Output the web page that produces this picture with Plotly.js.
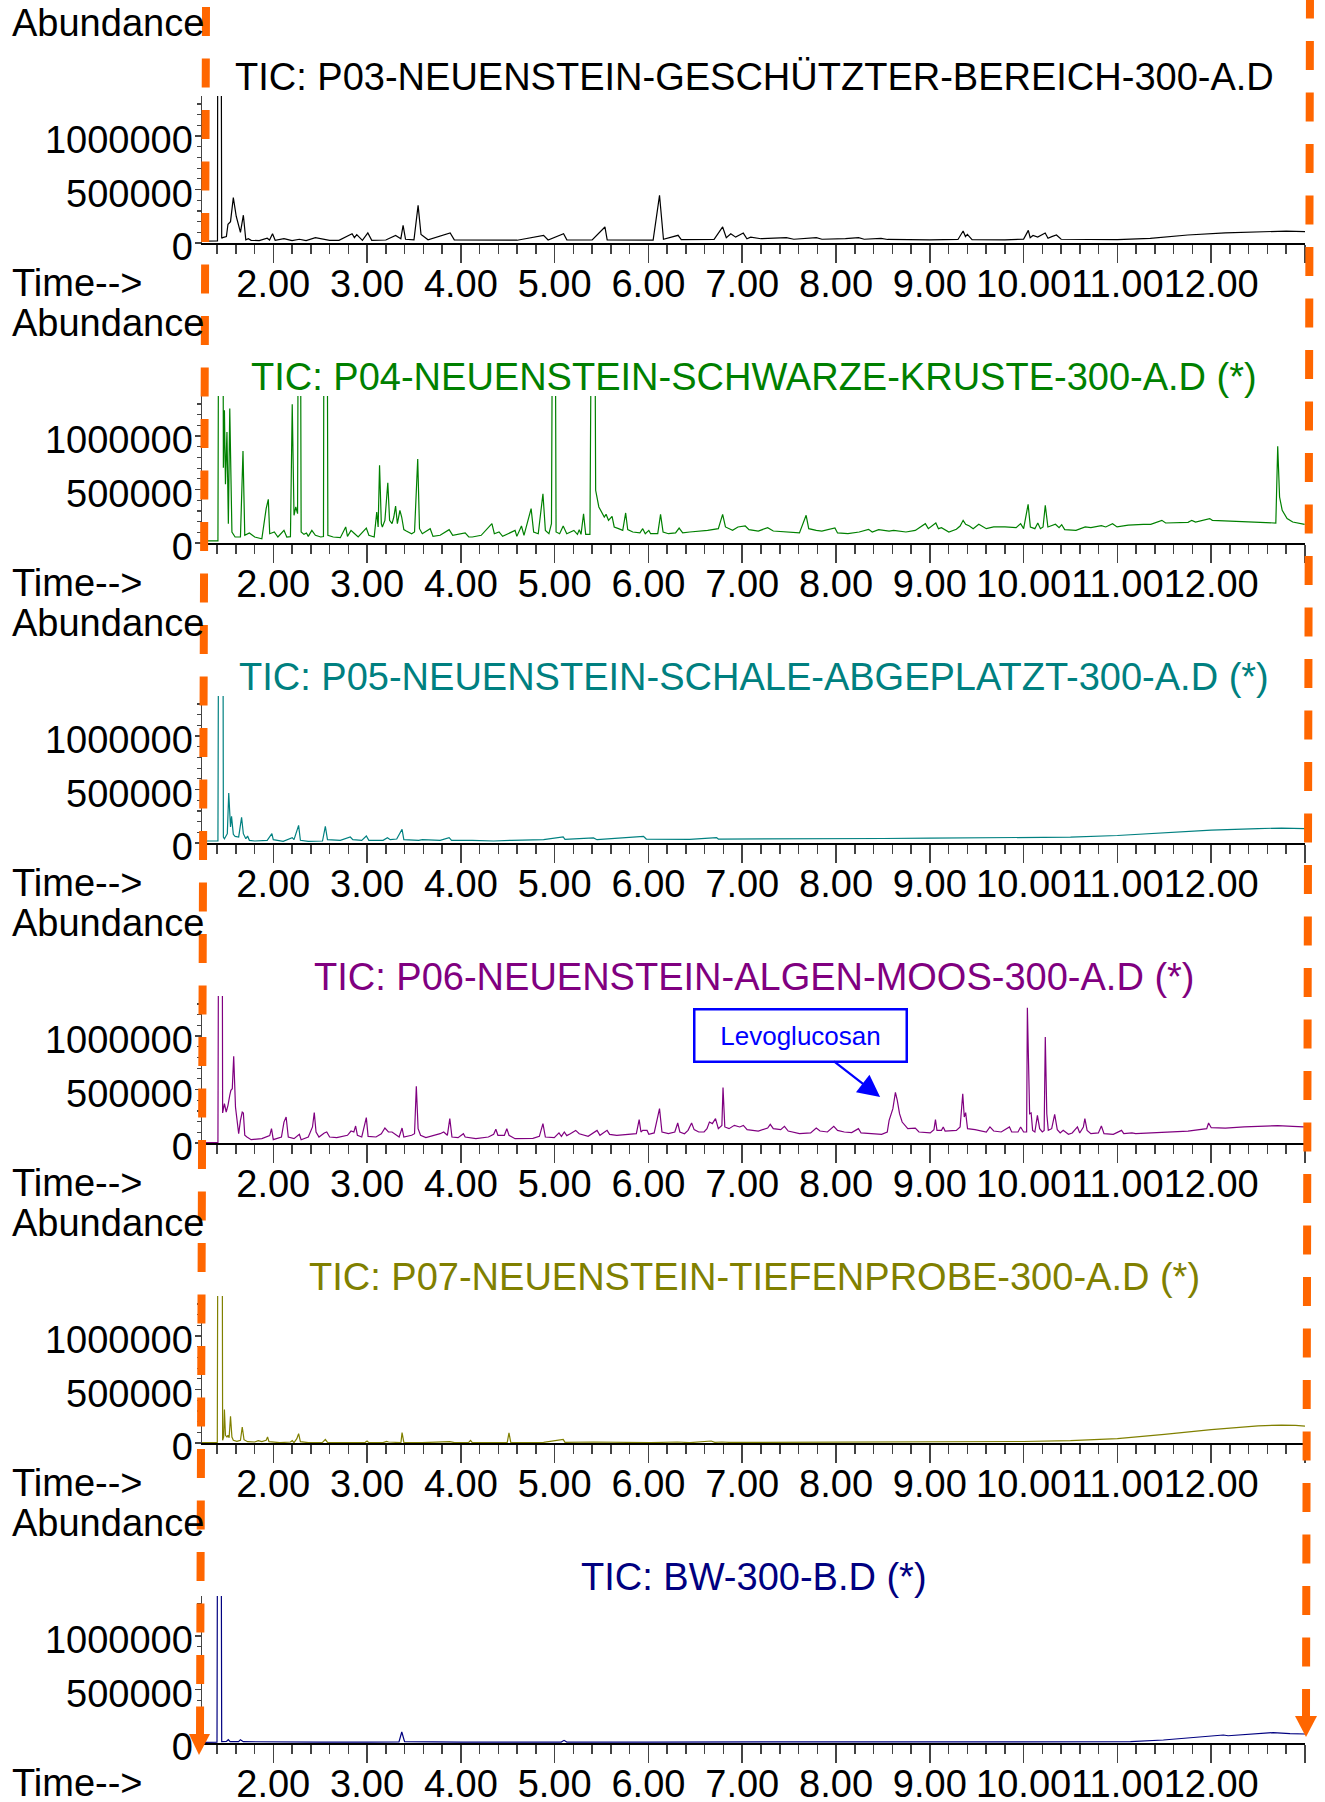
<!DOCTYPE html>
<html>
<head>
<meta charset="utf-8">
<script src="https://cdn.plot.ly/plotly-3.0.1.min.js"></script>
<style>html,body{margin:0;padding:0;background:#fff;}#chart{width:1325px;height:1802px;}</style>
</head>
<body>
<div id="chart"></div>
<script>
// ---- data: [retention time (min), abundance] ----
const p03 = [[1.24,18000],[1.39,20000],[1.405,20000],[1.41,4e6],[1.44,4e6],[1.45,45000],[1.46,50000],[1.50,60000],[1.517,175000],[1.544,200000],[1.574,424000],[1.605,250000],[1.631,150000],[1.65,100000],[1.681,260000],[1.707,30000],[1.734,40000],[1.764,25000],[1.85,22000],[1.935,45000],[1.96,28000],[1.992,87000],[2.02,25000],[2.114,40000],[2.2,22000],[2.278,35000],[2.35,22000],[2.449,50000],[2.6,24000],[2.7,25000],[2.84,87000],[2.865,50000],[2.89,78000],[2.95,25000],[3.008,94000],[3.05,25000],[3.2,28000],[3.304,70000],[3.36,40000],[3.384,165000],[3.41,35000],[3.50,30000],[3.544,352000],[3.575,80000],[3.65,30000],[3.886,94000],[3.93,30000],[4.3,24000],[4.6,26000],[4.882,72000],[4.93,28000],[5.095,87000],[5.13,30000],[5.4,28000],[5.536,150000],[5.56,30000],[5.9,26000],[6.05,27000],[6.118,446000],[6.16,35000],[6.316,72000],[6.35,32000],[6.7,34000],[6.791,150000],[6.83,50000],[6.878,87000],[6.93,55000],[7.011,93000],[7.05,40000],[7.09,55000],[7.2,40000],[7.47,50000],[7.55,35000],[7.79,50000],[7.85,35000],[8.1,40000],[8.24,50000],[8.3,35000],[8.48,44000],[8.55,33000],[9.0,30000],[9.3,33000],[9.355,112000],[9.38,60000],[9.40,80000],[9.45,32000],[9.8,30000],[10.0,36000],[10.05,118000],[10.07,50000],[10.1,70000],[10.15,55000],[10.23,94000],[10.26,45000],[10.3,60000],[10.35,75000],[10.4,35000],[10.6,34000],[10.8,33000],[11.0,31000],[11.35,44000],[11.75,75000],[12.15,94000],[12.55,109000],[12.8,112000],[13.0,107000]];

const p04 = [[1.24,19000],[1.41,19000],[1.422,4e6],[1.46,4e6],[1.468,705000],[1.479,1241000],[1.49,549000],[1.506,1038000],[1.521,181000],[1.536,1257000],[1.559,103000],[1.593,56000],[1.65,56000],[1.677,860000],[1.696,72000],[1.745,94000],[1.802,56000],[1.878,40000],[1.924,321000],[1.947,408000],[1.962,87000],[2.011,103000],[2.049,56000],[2.114,118000],[2.144,56000],[2.183,60000],[2.202,1297000],[2.221,259000],[2.24,337000],[2.259,274000],[2.272,4e6],[2.285,4e6],[2.297,103000],[2.327,81000],[2.354,94000],[2.373,62000],[2.411,118000],[2.449,72000],[2.506,56000],[2.535,60000],[2.544,4e6],[2.57,4e6],[2.582,72000],[2.639,56000],[2.715,50000],[2.772,150000],[2.791,62000],[2.829,118000],[2.859,94000],[2.905,56000],[2.992,140000],[3.019,72000],[3.076,56000],[3.103,290000],[3.118,150000],[3.133,726000],[3.152,181000],[3.163,150000],[3.19,212000],[3.221,564000],[3.24,212000],[3.266,181000],[3.285,243000],[3.304,346000],[3.323,181000],[3.35,306000],[3.369,243000],[3.392,125000],[3.418,112000],[3.445,103000],[3.475,87000],[3.506,103000],[3.54,786000],[3.559,134000],[3.589,87000],[3.673,134000],[3.703,62000],[3.779,72000],[3.875,125000],[3.913,72000],[4.046,94000],[4.084,56000],[4.122,56000],[4.217,72000],[4.331,181000],[4.357,87000],[4.407,103000],[4.445,62000],[4.521,94000],[4.578,118000],[4.597,62000],[4.646,159000],[4.673,72000],[4.749,321000],[4.776,103000],[4.825,87000],[4.875,461000],[4.901,118000],[4.939,87000],[4.966,181000],[4.985,4e6],[5.0,4e6],[5.015,103000],[5.053,87000],[5.091,159000],[5.129,87000],[5.205,118000],[5.243,81000],[5.262,125000],[5.281,81000],[5.308,274000],[5.331,81000],[5.376,81000],[5.403,4e6],[5.422,4e6],[5.437,493000],[5.471,337000],[5.529,243000],[5.548,268000],[5.574,212000],[5.612,249000],[5.635,150000],[5.681,134000],[5.726,118000],[5.757,281000],[5.779,125000],[5.833,103000],[5.909,94000],[5.939,134000],[5.966,87000],[6.004,118000],[6.023,87000],[6.099,87000],[6.129,268000],[6.156,103000],[6.213,87000],[6.289,94000],[6.327,140000],[6.365,94000],[6.441,103000],[6.631,118000],[6.745,134000],[6.791,268000],[6.821,150000],[6.897,118000],[6.954,150000],[7.032,159000],[7.072,125000],[7.171,112000],[7.271,143000],[7.331,112000],[7.45,103000],[7.61,94000],[7.681,259000],[7.709,134000],[7.789,118000],[7.849,112000],[7.988,140000],[8.016,94000],[8.127,87000],[8.247,103000],[8.347,128000],[8.386,103000],[8.454,125000],[8.566,112000],[8.614,118000],[8.745,103000],[8.845,118000],[8.952,181000],[8.984,134000],[9.064,187000],[9.092,134000],[9.124,143000],[9.203,103000],[9.283,128000],[9.323,159000],[9.355,212000],[9.382,175000],[9.422,159000],[9.462,134000],[9.522,175000],[9.602,134000],[9.681,150000],[9.801,150000],[9.92,143000],[9.968,181000],[10.0,134000],[10.048,362000],[10.072,150000],[10.12,134000],[10.151,187000],[10.179,134000],[10.207,150000],[10.231,352000],[10.259,150000],[10.339,175000],[10.378,143000],[10.406,171000],[10.438,125000],[10.558,118000],[10.657,150000],[10.717,143000],[10.829,162000],[10.876,150000],[10.948,181000],[10.996,150000],[11.116,168000],[11.275,175000],[11.355,175000],[11.474,212000],[11.514,187000],[11.753,193000],[11.793,212000],[11.833,196000],[11.984,228000],[12.012,212000],[12.151,206000],[12.39,196000],[12.55,193000],[12.689,187000],[12.709,904000],[12.729,430000],[12.757,306000],[12.809,228000],[12.869,196000],[12.996,175000]];

const p05 = [[1.24,18700],[1.41,18700],[1.422,4e6],[1.46,4e6],[1.468,56000],[1.479,40000],[1.51,87000],[1.525,468000],[1.544,150000],[1.555,249000],[1.574,81000],[1.593,62000],[1.631,56000],[1.662,240000],[1.681,87000],[1.707,40000],[1.726,65000],[1.745,25000],[1.802,18700],[1.878,25000],[1.935,25000],[1.985,87000],[2.0,31000],[2.106,15600],[2.202,50000],[2.221,31000],[2.27,165000],[2.289,25000],[2.373,15600],[2.525,18700],[2.555,156000],[2.578,31000],[2.715,25000],[2.821,56000],[2.848,31000],[2.943,25000],[2.992,65000],[3.019,25000],[3.171,25000],[3.217,50000],[3.247,31000],[3.316,37000],[3.373,128000],[3.392,31000],[3.551,25000],[3.589,31000],[3.779,25000],[3.875,50000],[3.901,25000],[4.122,25000],[4.35,18700],[4.54,25000],[4.882,31000],[5.091,56000],[5.11,34000],[5.414,47000],[5.452,31000],[5.947,62000],[5.977,37000],[6.441,34000],[6.726,50000],[6.745,37000],[7.08,37000],[7.5,38000],[8.0,40000],[8.5,42000],[9.0,45000],[9.5,47000],[10.0,50000],[10.5,55000],[11.0,70000],[11.5,95000],[12.0,120000],[12.5,135000],[12.75,140000],[13.0,135000]];

const p06 = [[1.24,3100],[1.41,3100],[1.422,4e6],[1.452,4e6],[1.46,281000],[1.479,368000],[1.498,290000],[1.517,352000],[1.536,446000],[1.548,493000],[1.563,508000],[1.578,811000],[1.597,337000],[1.612,243000],[1.631,87000],[1.65,212000],[1.669,290000],[1.681,281000],[1.696,72000],[1.719,56000],[1.734,47000],[1.764,31000],[1.878,40500],[1.935,56000],[1.962,69000],[1.981,134000],[2.0,31000],[2.087,56000],[2.114,196000],[2.137,243000],[2.16,56000],[2.221,40500],[2.278,81000],[2.297,31000],[2.373,56000],[2.418,150000],[2.437,284000],[2.456,103000],[2.487,56000],[2.544,94000],[2.57,103000],[2.601,56000],[2.677,50000],[2.791,72000],[2.829,112000],[2.859,103000],[2.878,159000],[2.897,72000],[2.943,56000],[2.992,237000],[3.011,62000],[3.095,56000],[3.152,87000],[3.19,140000],[3.228,103000],[3.266,103000],[3.304,81000],[3.342,56000],[3.373,140000],[3.392,56000],[3.475,72000],[3.506,87000],[3.525,530000],[3.544,134000],[3.57,72000],[3.627,50000],[3.779,87000],[3.817,103000],[3.856,72000],[3.882,228000],[3.905,56000],[3.97,50000],[4.027,87000],[4.046,56000],[4.16,40500],[4.293,56000],[4.35,81000],[4.373,128000],[4.395,72000],[4.464,72000],[4.49,134000],[4.513,72000],[4.578,40500],[4.654,44000],[4.768,44000],[4.837,62000],[4.875,181000],[4.901,56000],[4.996,50000],[5.046,94000],[5.072,62000],[5.103,103000],[5.129,69000],[5.167,87000],[5.224,118000],[5.262,87000],[5.357,62000],[5.452,118000],[5.483,72000],[5.559,118000],[5.586,81000],[5.662,72000],[5.757,81000],[5.871,87000],[5.901,218000],[5.92,103000],[5.939,118000],[5.985,118000],[6.004,81000],[6.061,94000],[6.118,321000],[6.144,103000],[6.213,87000],[6.281,103000],[6.312,187000],[6.335,103000],[6.384,87000],[6.422,118000],[6.46,187000],[6.487,125000],[6.536,103000],[6.593,103000],[6.624,134000],[6.65,196000],[6.681,181000],[6.715,228000],[6.745,134000],[6.783,165000],[6.795,518000],[6.814,150000],[6.859,134000],[6.916,165000],[6.973,150000],[7.012,165000],[7.052,125000],[7.171,112000],[7.271,140000],[7.299,175000],[7.331,134000],[7.41,125000],[7.45,156000],[7.49,112000],[7.61,87000],[7.729,94000],[7.789,140000],[7.829,112000],[7.908,103000],[7.976,156000],[8.016,118000],[8.088,103000],[8.167,97000],[8.239,134000],[8.267,94000],[8.386,87000],[8.486,81000],[8.546,103000],[8.566,212000],[8.606,321000],[8.633,474000],[8.653,399000],[8.677,274000],[8.705,196000],[8.765,134000],[8.845,140000],[8.884,103000],[9.004,94000],[9.044,125000],[9.06,218000],[9.076,118000],[9.124,118000],[9.143,150000],[9.163,112000],[9.283,118000],[9.323,150000],[9.351,461000],[9.367,243000],[9.382,284000],[9.402,134000],[9.482,125000],[9.602,103000],[9.641,150000],[9.681,112000],[9.761,103000],[9.849,150000],[9.873,103000],[9.94,103000],[9.968,150000],[10.0,103000],[10.032,103000],[10.04,1266000],[10.052,586000],[10.064,274000],[10.08,281000],[10.096,118000],[10.12,103000],[10.147,259000],[10.171,134000],[10.199,103000],[10.219,118000],[10.231,992000],[10.247,274000],[10.263,118000],[10.299,134000],[10.331,268000],[10.359,125000],[10.39,94000],[10.422,118000],[10.478,81000],[10.518,94000],[10.574,150000],[10.598,94000],[10.637,150000],[10.653,228000],[10.677,118000],[10.717,87000],[10.797,94000],[10.829,159000],[10.857,87000],[10.956,81000],[11.044,118000],[11.068,87000],[11.155,94000],[11.195,87000],[11.355,94000],[11.554,103000],[11.753,112000],[11.952,134000],[11.972,187000],[12.0,143000],[12.151,140000],[12.351,150000],[12.55,156000],[12.709,162000],[12.869,156000],[12.988,150000]];

const p07 = [[1.24,3100],[1.403,3100],[1.414,4e6],[1.452,4e6],[1.46,25000],[1.471,56000],[1.479,312000],[1.49,72000],[1.506,56000],[1.517,72000],[1.529,50000],[1.544,249000],[1.559,56000],[1.574,25000],[1.612,15600],[1.65,25000],[1.669,150000],[1.688,31000],[1.726,12500],[1.802,9400],[1.84,22000],[1.878,12500],[1.924,25000],[1.939,56000],[1.954,12500],[2.068,3100],[2.183,9400],[2.202,22000],[2.221,3100],[2.251,40500],[2.27,87000],[2.289,12500],[2.373,3100],[2.525,6200],[2.555,34000],[2.578,6200],[2.715,3100],[2.981,6200],[3.0,18700],[3.019,3100],[3.171,3100],[3.209,15600],[3.228,9400],[3.266,9400],[3.361,3100],[3.373,97000],[3.392,6200],[3.589,3100],[3.856,6200],[3.882,12500],[3.932,3100],[4.084,6200],[4.103,25000],[4.122,3100],[4.35,3100],[4.494,3100],[4.513,94000],[4.532,6200],[4.73,3100],[4.882,6200],[5.091,34000],[5.11,6200],[5.414,9400],[5.681,6200],[6.023,3100],[6.308,9400],[6.441,3100],[6.669,18700],[6.707,6200],[6.783,9400],[6.859,6200],[7.08,6200],[7.5,7000],[8.0,8000],[8.5,8000],[9.0,10000],[9.5,10000],[10.0,14000],[10.5,22000],[11.0,40000],[11.5,80000],[12.0,125000],[12.5,160000],[12.75,168000],[12.9,165000],[13.0,158000]];

const bw = [[1.24,5000],[1.40,8000],[1.41,4e6],[1.44,4e6],[1.45,12000],[1.50,15000],[1.52,31000],[1.54,12000],[1.63,12000],[1.65,31000],[1.68,12000],[2.0,9000],[2.5,9000],[3.0,9000],[3.34,10000],[3.37,103000],[3.40,12000],[4.0,9000],[5.07,9000],[5.1,25000],[5.13,9000],[6.0,9000],[7.0,9000],[8.0,9000],[9.0,9000],[10.0,9000],[11.14,12000],[11.49,28000],[11.81,50000],[12.02,66000],[12.13,75000],[12.18,68000],[12.38,78000],[12.66,97000],[12.84,88000],[13.0,84000]];

const seriesList = [p03, p04, p05, p06, p07, bw];
const titles = ["TIC: P03-NEUENSTEIN-GESCHÜTZTER-BEREICH-300-A.D",
  "TIC: P04-NEUENSTEIN-SCHWARZE-KRUSTE-300-A.D (*)",
  "TIC: P05-NEUENSTEIN-SCHALE-ABGEPLATZT-300-A.D (*)",
  "TIC: P06-NEUENSTEIN-ALGEN-MOOS-300-A.D (*)",
  "TIC: P07-NEUENSTEIN-TIEFENPROBE-300-A.D (*)",
  "TIC: BW-300-B.D (*)"];
const colors = ["#000000", "#008000", "#008080", "#800080", "#808000", "#000080"];
const xTickVals = [2,3,4,5,6,7,8,9,10,11,12,13];
const xTickText = ["2.00","3.00","4.00","5.00","6.00","7.00","8.00","9.00","10.00","11.00","12.00",""];
const yTickVals = [0, 500000, 1000000];
const yTickText = ["0", "500000", "1000000"];
const yLabel = "Abundance";
const xLabel = "Time-->";
const annotText = "Levoglucosan";
const annotPoint = [8.47, 430000];

// ---- layout ----
const W = 1325, H = 1802;
const px = v => v / W;
const py = v => 1 - v / H;
const FONT = "Liberation Sans, Arial, sans-serif";
const FS = 38;
const PANEL = 300;

const traces = [];
const layout = {
  width: W, height: H,
  margin: {l: 0, r: 0, t: 0, b: 0},
  paper_bgcolor: "#fff", plot_bgcolor: "#fff",
  showlegend: false,
  font: {family: FONT, color: "#000", size: FS},
  annotations: [], shapes: []
};

seriesList.forEach((s, k) => {
  const sfx = k === 0 ? "" : String(k + 1);
  traces.push({
    x: s.map(p => p[0]), y: s.map(p => p[1]),
    xaxis: "x" + sfx, yaxis: "y" + sfx,
    type: "scatter", mode: "lines",
    line: {color: colors[k], width: 1.2},
    hoverinfo: "skip"
  });
  const top = 96 + PANEL * k, zero = 243 + PANEL * k;
  layout["xaxis" + sfx] = {
    domain: [px(202), px(1305)], anchor: "y" + sfx,
    range: [1.24, 13.0], showgrid: false, zeroline: false,
    showline: true, linecolor: "#000", linewidth: 1.5,
    ticks: "outside", ticklen: 18, tickwidth: 1.5, tickcolor: "#444",
    tickmode: "array", tickvals: xTickVals, ticktext: xTickText,
    tickangle: 0, ticklabelstandoff: -11,
    tickfont: {size: FS, family: FONT, color: "#000"},
    minor: {tickmode: "linear", tick0: 0, dtick: 0.2, ticks: "outside", ticklen: 9, tickwidth: 1.5, tickcolor: "#444", showgrid: false},
    automargin: false, fixedrange: true
  };
  layout["yaxis" + sfx] = {
    domain: [py(zero), py(top)], anchor: "x" + sfx,
    range: [0, 1375000], showgrid: false, zeroline: false,
    showline: true, linecolor: "#444", linewidth: 1.5,
    ticks: "outside", ticklen: 6, tickwidth: 1.5, tickcolor: "#444",
    tickmode: "array", tickvals: yTickVals, ticktext: yTickText,
    ticklabelstandoff: -6, ticklabelshift: 4,
    tickfont: {size: FS, family: FONT, color: "#000"},
    minor: {tickmode: "linear", tick0: 0, dtick: 100000, ticks: "outside", ticklen: 4, tickwidth: 1.2, tickcolor: "#444", showgrid: false},
    automargin: false, fixedrange: true
  };
  layout.annotations.push({
    text: yLabel, xref: "paper", yref: "paper", x: px(10), y: py(23 + PANEL * k),
    xanchor: "left", yanchor: "middle", showarrow: false,
    font: {size: FS, family: FONT, color: "#000"}
  });
  layout.annotations.push({
    text: xLabel, xref: "paper", yref: "paper", x: px(10), y: py(283 + PANEL * k),
    xanchor: "left", yanchor: "middle", showarrow: false,
    font: {size: FS, family: FONT, color: "#000"}
  });
  layout.annotations.push({
    text: titles[k], xref: "paper", yref: "paper", x: px(754), y: py(77 + PANEL * k),
    xanchor: "center", yanchor: "middle", showarrow: false,
    font: {size: FS, family: FONT, color: colors[k]}
  });
});

// Levoglucosan callout on panel 4
layout.annotations.push({
  text: annotText, xref: "x4", yref: "y4", x: annotPoint[0], y: annotPoint[1],
  ax: -80, ay: -62, showarrow: true,
  arrowhead: 2, arrowsize: 2, arrowwidth: 2.2, arrowcolor: "#0000FF",
  font: {size: 26, family: FONT, color: "#0000FF"},
  bordercolor: "#0000FF", borderwidth: 2.5, borderpad: 2,
  bgcolor: "#ffffff", width: 206, height: 46
});

// orange dashed guide lines with arrowheads
const ORANGE = "#FF6600";
layout.shapes.push({
  type: "line", xref: "paper", yref: "paper", layer: "above",
  x0: px(206), y0: py(7), x1: px(200), y1: py(1734),
  line: {color: ORANGE, width: 8, dash: "29px,22.5px"}
});
layout.shapes.push({
  type: "line", xref: "paper", yref: "paper", layer: "above",
  x0: px(1310), y0: py(-10.5), x1: px(1306), y1: py(1716),
  line: {color: ORANGE, width: 8, dash: "29px,22.5px"}
});
layout.shapes.push({
  type: "path", xref: "paper", yref: "paper", layer: "above",
  path: `M ${px(189)},${py(1734)} L ${px(210)},${py(1734)} L ${px(199)},${py(1755)} Z`,
  fillcolor: ORANGE, line: {width: 0}
});
layout.shapes.push({
  type: "path", xref: "paper", yref: "paper", layer: "above",
  path: `M ${px(1295)},${py(1716)} L ${px(1317)},${py(1716)} L ${px(1306)},${py(1737)} Z`,
  fillcolor: ORANGE, line: {width: 0}
});

Plotly.newPlot("chart", traces, layout, {displayModeBar: false, staticPlot: true});
</script>
</body>
</html>
